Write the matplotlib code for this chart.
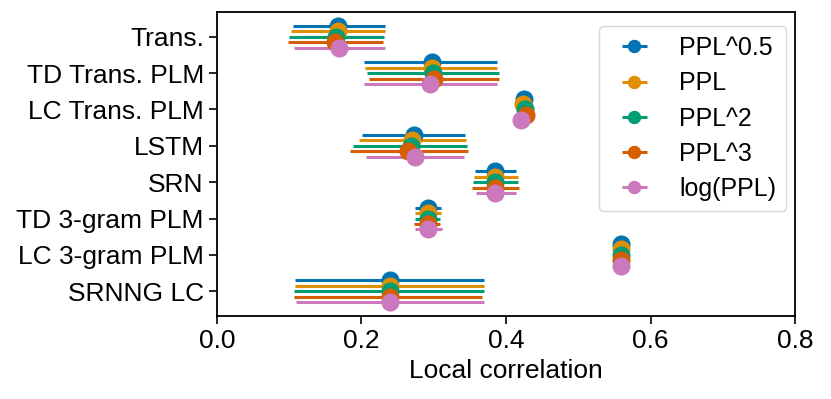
import matplotlib
matplotlib.use("Agg")
import matplotlib.pyplot as plt
import numpy as np

plt.rcParams['font.family'] = ['Liberation Sans', 'DejaVu Sans']

categories = ["Trans.", "TD Trans. PLM", "LC Trans. PLM", "LSTM", "SRN",
              "TD 3-gram PLM", "LC 3-gram PLM", "SRNNG LC"]
series = ["PPL^0.5", "PPL", "PPL^2", "PPL^3", "log(PPL)"]
colors = ["#0173B2", "#DE8F05", "#029E73", "#D55E00", "#CC78BC"]

# point estimates
ppl05 = [0.168, 0.297, 0.4255, 0.272, 0.385, 0.2915, 0.5595, 0.239]
ppl1  = [0.167, 0.297, 0.424, 0.270, 0.385, 0.2915, 0.5595, 0.239]
ppl2  = [0.165, 0.299, 0.426, 0.268, 0.385, 0.2915, 0.5595, 0.239]
ppl3  = [0.163, 0.300, 0.428, 0.265, 0.385, 0.2915, 0.5595, 0.239]
logp  = [0.169, 0.295, 0.421, 0.274, 0.385, 0.2915, 0.5595, 0.239]

# interval lower / upper bounds
lo05 = [0.105, 0.204, 0.423, 0.201, 0.357, 0.274, 0.5590, 0.108]
hi05 = [0.232, 0.388, 0.428, 0.343, 0.414, 0.310, 0.5600, 0.369]
lo1  = [0.103, 0.205, 0.421, 0.196, 0.356, 0.274, 0.5590, 0.108]
hi1  = [0.232, 0.388, 0.427, 0.345, 0.416, 0.310, 0.5600, 0.369]
lo2  = [0.100, 0.208, 0.423, 0.188, 0.354, 0.274, 0.5590, 0.107]
hi2  = [0.231, 0.390, 0.429, 0.346, 0.417, 0.309, 0.5600, 0.369]
lo3  = [0.098, 0.210, 0.425, 0.184, 0.353, 0.273, 0.5590, 0.107]
hi3  = [0.230, 0.391, 0.431, 0.347, 0.418, 0.309, 0.5600, 0.367]
lolg = [0.106, 0.203, 0.412, 0.206, 0.358, 0.274, 0.5590, 0.109]
hilg = [0.233, 0.387, 0.424, 0.342, 0.414, 0.311, 0.5600, 0.370]

values = [ppl05, ppl1, ppl2, ppl3, logp]
lows = [lo05, lo1, lo2, lo3, lolg]
highs = [hi05, hi1, hi2, hi3, hilg]
offsets = [-0.3, -0.15, 0.0, 0.15, 0.3]

FS = 19

fig = plt.figure(figsize=(8.31, 3.99), dpi=100)
ax = fig.add_axes([0.2611, 0.208, 0.6956, 0.762])

y = np.arange(len(categories))
for name, c, v, lo, hi, off in zip(series, colors, values, lows, highs, offsets):
    v = np.array(v); lo = np.array(lo); hi = np.array(hi)
    err = np.vstack([np.clip(v - lo, 0, None), np.clip(hi - v, 0, None)])
    ax.errorbar(v, y + off, xerr=err, fmt='o', color=c, ecolor=c,
                elinewidth=2.2, markersize=12, capsize=0, label=name)

ax.set_yticks(y)
ax.set_yticklabels(categories)
ax.invert_yaxis()
ax.set_xlim(0, 0.8)
ax.set_xticks([0.0, 0.2, 0.4, 0.6, 0.8])
ax.tick_params(labelsize=FS, length=6, width=1.2, pad=3.5)
for s in ax.spines.values():
    s.set_linewidth(1.3)
ax.set_xlabel("Local correlation", fontsize=FS)
ax.legend(loc='upper right', fontsize=18, markerscale=0.72,
          bbox_to_anchor=(786 / 831, 1 - 26 / 399), bbox_transform=fig.transFigure,
          borderaxespad=0, labelspacing=0.45, borderpad=0.4)

fig.savefig("out.png", dpi=100)
